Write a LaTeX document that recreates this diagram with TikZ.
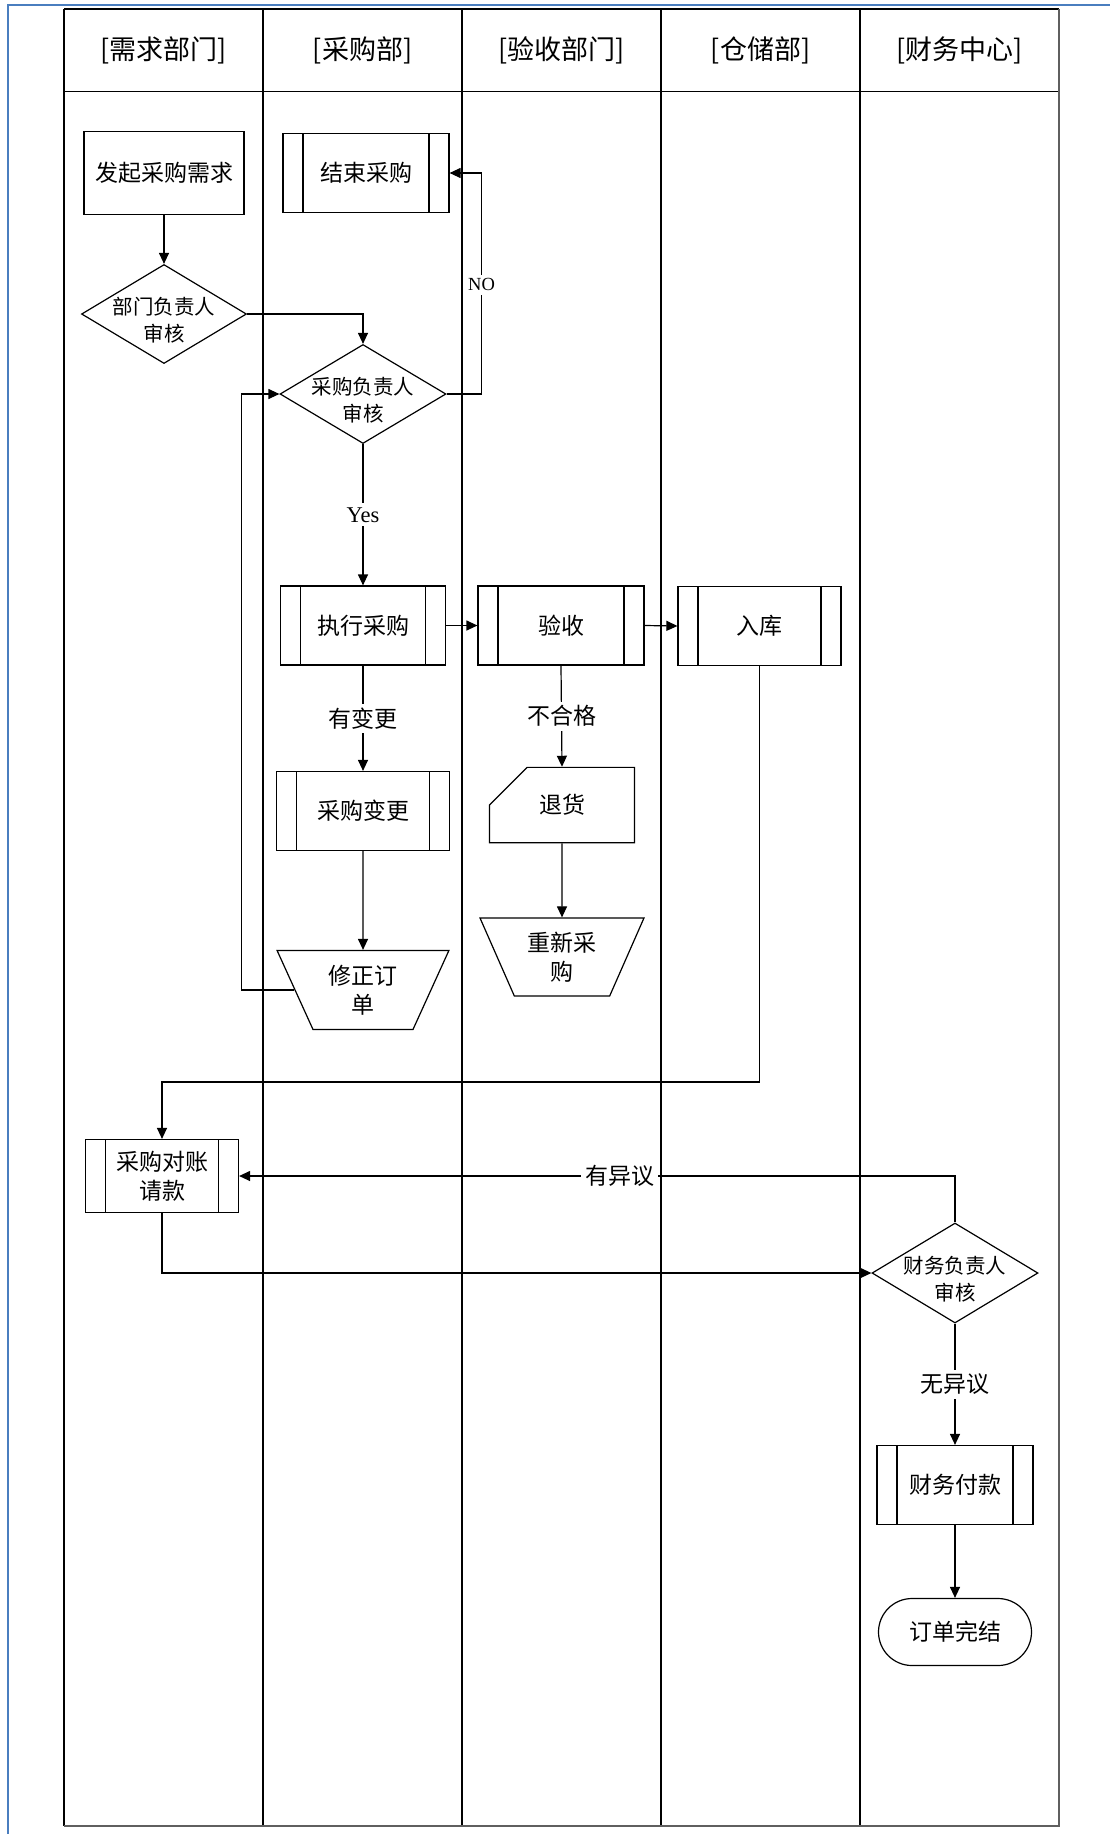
\documentclass[tikz,border=0pt]{standalone}
\usepackage{fontspec}
\usepackage{tikz}
\usetikzlibrary{
  arrows.meta,
  shapes.geometric,
  shapes.misc,
  positioning,
  calc
}
\setmainfont{Liberation Serif}
\newfontfamily\cjk{Noto Sans CJK SC}
\definecolor{pfFrame}{HTML}{4A7EBF}
\definecolor{pfShade}{HTML}{5F5F5F}
\tikzset{
  lane/.style={draw=black, line width=1.4pt},
  laneshade/.style={draw=pfShade, line width=2.2pt},
  lanehead/.style={font=\cjk\fontsize{27}{30}\selectfont},
  pfnode/.style={
    draw, line width=1.2pt, align=center, inner sep=2pt,
    font=\cjk\fontsize{23}{29}\selectfont
  },
  box/.style={pfnode, rectangle, minimum width=160pt, minimum height=83pt},
  predef/.style={pfnode, rectangle, minimum width=166pt, minimum height=79pt,
    path picture={
      \draw[line width=1.2pt]
        ([xshift=20pt]path picture bounding box.north west) -- ([xshift=20pt]path picture bounding box.south west)
        ([xshift=-20pt]path picture bounding box.north east) -- ([xshift=-20pt]path picture bounding box.south east);
    }},
  decision/.style={pfnode, diamond, minimum width=166pt, minimum height=99pt,
    inner sep=-20pt, font=\cjk\fontsize{20.5}{27}\selectfont,
    text height=57pt},
  manual/.style={pfnode, trapezium, trapezium stretches=true, shape border rotate=180,
    trapezium angle=63.7, minimum width=172pt, minimum height=79pt, inner sep=0pt},
  card/.style={pfnode, chamfered rectangle, chamfered rectangle corners=north west,
    chamfered rectangle xsep=40pt, chamfered rectangle ysep=36pt,
    minimum width=145pt, minimum height=73pt},
  terminal/.style={pfnode, rectangle, rounded corners=33.5pt, minimum width=153pt, minimum height=67pt},
  flow/.style={-{Triangle[length=11pt, width=10pt]}, line width=1.2pt},
  tag/.style={fill=white, inner sep=4pt, font=\cjk\fontsize{23}{29}\selectfont},
  latintag/.style={tag, font=\fontsize{22.5}{27}\selectfont}
}

\begin{document}
\begin{tikzpicture}[x=1pt, y=-1pt]
  \useasboundingbox (0,0) rectangle (1110,1834);

  % swimlanes
  \draw[pfFrame, line width=2.5pt] (8,1834) -- (8,5) -- (1110,5);
  \foreach \x in {64,263,462,661,860}
    \draw[lane] (\x,9) -- (\x,1826);
  \draw[lane] (64,9) -- (1059,9);
  \draw[lane] (64,91.5) -- (1059,91.5);
  \draw[laneshade] (1059,9) -- (1059,1826) -- (64,1826);
  \foreach \i/\title in {0/需求部门, 1/采购部, 2/验收部门, 3/仓储部, 4/财务中心}
    \node[lanehead] (head\i) at (163.5+199*\i, 50) {[\title]};

  % nodes
  \node[box] (req) at (164,173) {发起采购需求};
  \node[decision, minimum width=165pt] (deptchk) at (164,314) {部门负责人\\审核};
  \node[predef] (endbuy) at (366,173) {结束采购};
  \node[decision] (buychk) at (363,394) {采购负责人\\审核};
  \node[predef, minimum width=165pt] (exec) at (363,625.5) {执行采购};
  \node[predef] (check) at (561,625.5) {验收};
  \node[predef, minimum width=163pt] (store) at (759.5,626) {入库};
  \node[predef, minimum width=173pt] (change) at (363,811) {采购变更};
  \node[manual] (fix) at (363,990) {修正订\\单};
  \node[card] (ret) at (562,805) {退货};
  \node[manual, minimum width=164pt, minimum height=78pt] (redo) at (562,957) {重新采\\购};
  \node[predef, minimum width=153pt, minimum height=73pt] (bill) at (162,1176) {采购对账\\请款};
  \node[decision, minimum height=100pt] (fincheck) at (955,1273) {财务负责人\\审核};
  \node[predef, minimum width=156pt] (pay) at (955,1485) {财务付款};
  \node[terminal] (done) at (955,1632) {订单完结};

  % connectors
  \draw[flow] (req.south) -- (deptchk.north);
  \draw[flow] (deptchk.east) -| (buychk.north);
  \draw[flow] (buychk.east) -- ++(35,0) |- node[latintag, pos=0.247, font=\fontsize{18.5}{22}\selectfont] {NO} (endbuy.east);
  \draw[flow] (buychk.south) -- node[latintag] {Yes} (exec.north);
  \draw[flow] (exec.east) -- (check.west);
  \draw[flow] (check.east) -- (store.west);
  \draw[flow] (exec.south) -- node[tag] {有变更} (change.north);
  \draw[flow] (change.south) -- (fix.north);
  \draw[flow] (fix.west) -- ++(-53,0) |- (buychk.west);
  \draw[flow] (check.south) -- node[tag] {不合格} (ret.north);
  \draw[flow] (ret.south) -- (redo.north);
  \draw[flow] (store.south) |- ([yshift=57pt]bill.north) -- (bill.north);
  \draw[flow] (fincheck.north) |- node[tag, pos=0.734] {有异议} (bill.east);
  \draw[flow] (bill.south) |- (fincheck.west);
  \draw[flow] (fincheck.south) -- node[tag] {无异议} (pay.north);
  \draw[flow] (pay.south) -- (done.north);
\end{tikzpicture}
\end{document}
